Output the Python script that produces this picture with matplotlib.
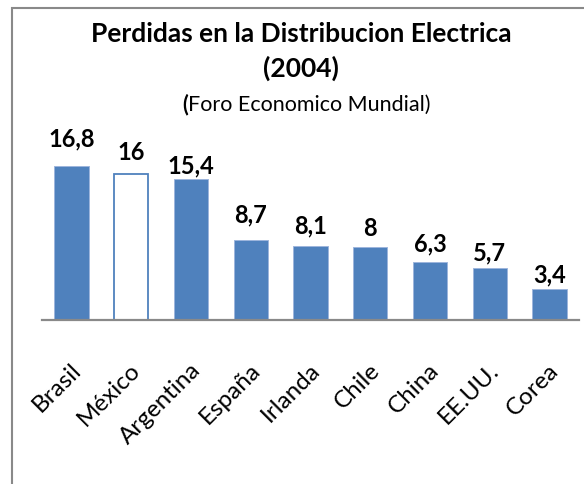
import matplotlib
matplotlib.use("Agg")
import matplotlib.pyplot as plt
import matplotlib.transforms as mtransforms
from matplotlib.patches import Rectangle

countries = ["Brasil", "México", "Argentina", "España", "Irlanda", "Chile", "China", "EE.UU.", "Corea"]
losses = [16.8, 16, 15.4, 8.7, 8.1, 8, 6.3, 5.7, 3.4]
value_labels = ["16,8", "16", "15,4", "8,7", "8,1", "8", "6,3", "5,7", "3,4"]
highlight = "México"

# label gap above bar (pixels), as placed in the original
label_gaps = [21, 15, 7, 19, 13, 12, 12, 8, 7]

BLUE = "#4F81BD"
GRAY = "#898989"
FONT = ["Lato", "DejaVu Sans"]
plt.rcParams["font.family"] = FONT

W, H = 584, 485
PT = 72 / 100  # points per pixel
fig = plt.figure(figsize=(W / 100, H / 100), dpi=100)

# chart border (cut at right and bottom)
fig.patches.append(Rectangle((12 / W, -0.1), 1.2, 1 - 9 / H + 0.1, transform=fig.transFigure,
                             fill=False, edgecolor=GRAY, linewidth=1.5))

ax_left, ax_right = 41.6, 579.4
ax_bottom = 321
ymax = 18
px_per_unit = 9.15
ax_h = ymax * px_per_unit
ax = fig.add_axes([ax_left / W, (H - ax_bottom) / H, (ax_right - ax_left) / W, ax_h / H])

x = list(range(len(countries)))
faces = ["white" if c == highlight else BLUE for c in countries]
edges = [BLUE if c == highlight else "#9DB5DC" for c in countries]
lws = [1.3 if c == highlight else 0.7 for c in countries]
bars = ax.bar(x, losses, width=0.57, color=faces, edgecolor=edges, linewidth=lws, zorder=2)
ax.set_xlim(-0.5, len(countries) - 0.5)
ax.set_ylim(0, ymax)

for b, lab, gap in zip(bars, value_labels, label_gaps):
    ax.annotate(lab, (b.get_x() + b.get_width() / 2, b.get_height()),
                xytext=(0, gap * PT), textcoords="offset points",
                ha="center", va="baseline", fontsize=17, fontweight="bold", color="black")

for s in ["top", "right", "left"]:
    ax.spines[s].set_visible(False)
ax.spines["bottom"].set_color(GRAY)
ax.spines["bottom"].set_linewidth(1.6)
ax.set_yticks([])
ax.set_xticks(x)
ax.set_xticklabels(countries, rotation=45, ha="right", va="center",
                   rotation_mode="anchor", fontsize=17.5)
ax.tick_params(axis="x", length=0, pad=46 * PT)
offset = mtransforms.ScaledTranslation(6 / 100, 0, fig.dpi_scale_trans)
for t in ax.get_xticklabels():
    t.set_transform(t.get_transform() + offset)

# titles
fig.text(301 / W, 1 - 42 / H, "Perdidas en la Distribucion Electrica", ha="center", va="baseline",
         fontsize=19, fontweight="bold")
fig.text(301 / W, 1 - 77 / H, "(2004)", ha="center", va="baseline", fontsize=19, fontweight="bold")

renderer = fig.canvas.get_renderer()
sub_y = 1 - 111 / H
p = fig.text(0, sub_y, "(", ha="left", va="baseline", fontsize=15.5, fontweight="bold")
r = fig.text(0, sub_y, "Foro Economico Mundial)", ha="left", va="baseline", fontsize=15.5)
wp = p.get_window_extent(renderer).width
wr = r.get_window_extent(renderer).width
x0 = 306 - (wp + wr) / 2
p.set_x(x0 / W)
r.set_x((x0 + wp) / W)

fig.savefig("out.png", dpi=100)
